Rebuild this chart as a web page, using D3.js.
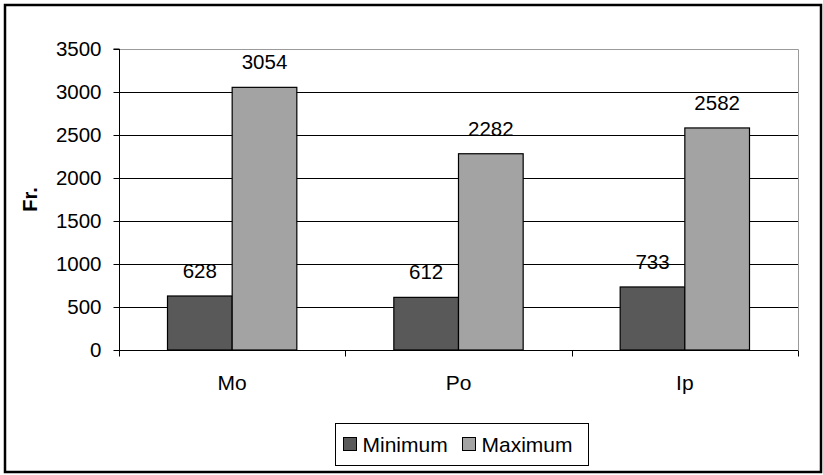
<!DOCTYPE html>
<html>
<head>
<meta charset="utf-8">
<script src="https://cdn.jsdelivr.net/npm/d3@7"></script>
<style>
  body { margin: 0; background: #fff; }
  svg text { font-family: "Liberation Sans", Arial, sans-serif; }
</style>
</head>
<body>
<svg id="chart" width="823" height="475"></svg>
<script>
// --- Data ---
const categories = ["Mo", "Po", "Ip"];
const seriesNames = ["Minimum", "Maximum"];
const minimumValues = [628, 612, 733];
const maximumValues = [3054, 2282, 2582];
const yTicks = [0, 500, 1000, 1500, 2000, 2500, 3000, 3500];

const COLORS = { Minimum: "#595959", Maximum: "#a3a3a3" };
const FONT_SIZE = 21;

const svg = d3.select("#chart");

// outer frame
svg.append("rect")
  .attr("x", 5).attr("y", 5).attr("width", 816).attr("height", 467)
  .attr("fill", "#fff").attr("stroke", "#000").attr("stroke-width", 2.5);

// plot area
const plot = { left: 119, right: 798, top: 49, bottom: 350 };

const x = d3.scaleBand().domain(categories).range([plot.left, plot.right]).padding(0);
const gap = 1.5; // excel gap width 150%
const barW = x.bandwidth() / (seriesNames.length + gap);
const y = d3.scaleLinear().domain([0, 3500]).range([plot.bottom, plot.top]);

const g = svg.append("g");

// gridlines
g.selectAll("line.grid").data(yTicks.filter(d => d > 0 && d < 3500)).join("line")
  .attr("x1", plot.left).attr("x2", plot.right)
  .attr("y1", d => Math.round(y(d)) + 0.5).attr("y2", d => Math.round(y(d)) + 0.5)
  .attr("stroke", "#000").attr("stroke-width", 1);

// plot border (top/right gray)
g.append("path")
  .attr("d", `M${plot.left},${plot.top + 0.5}H${plot.right + 0.5}V${plot.bottom}`)
  .attr("fill", "none").attr("stroke", "#9a9a9a").attr("stroke-width", 1);

// bars
const rows = categories.map((c, i) => ({ cat: c, values: [minimumValues[i], maximumValues[i]] }));
const groups = g.selectAll("g.cat").data(rows).join("g");
groups.each(function(row) {
  const start = x(row.cat) + barW * gap / 2;
  const sel = d3.select(this);
  row.values.forEach((v, j) => {
    const bx = start + j * barW;
    sel.append("rect")
      .attr("x", bx).attr("y", y(v))
      .attr("width", barW).attr("height", y(0) - y(v))
      .attr("fill", COLORS[seriesNames[j]])
      .attr("stroke", "#000").attr("stroke-width", 1.2);
    sel.append("text")
      .attr("x", bx + barW / 2).attr("y", y(v) - 18)
      .attr("text-anchor", "middle").attr("font-size", 20.5)
      .text(v);
  });
});

// y axis
const yAxis = d3.axisLeft(y).tickValues(yTicks).tickFormat(d3.format("d")).tickSize(6).tickPadding(12);
const yg = g.append("g").attr("transform", `translate(${plot.left + 0.5},0)`).call(yAxis);
yg.select(".domain").attr("d", `M-6,${plot.top}H0V${plot.bottom}`).attr("stroke", "#000");
yg.selectAll(".tick line").attr("stroke", "#000");
yg.selectAll(".tick text").attr("font-size", 20.5).attr("fill", "#000");

// x axis
const xg = g.append("g").attr("transform", `translate(0,${plot.bottom + 0.5})`);
xg.append("line").attr("x1", plot.left).attr("x2", plot.right)
  .attr("stroke", "#000");
const bounds = categories.map(c => x(c)).concat([plot.right]);
xg.selectAll("line.tk").data(bounds).join("line")
  .attr("x1", d => Math.round(d) + 0.5).attr("x2", d => Math.round(d) + 0.5)
  .attr("y1", 0).attr("y2", 6).attr("stroke", "#000");
xg.selectAll("text").data(categories).join("text")
  .attr("x", d => x(d) + x.bandwidth() / 2).attr("y", 39)
  .attr("text-anchor", "middle").attr("font-size", FONT_SIZE)
  .text(d => d);

// y title
svg.append("text")
  .attr("transform", `translate(37,${(plot.top + plot.bottom) / 2}) rotate(-90)`)
  .attr("text-anchor", "middle").attr("font-size", 20).attr("font-weight", "bold")
  .text("Fr.");

// legend
const lg = svg.append("g").attr("transform", "translate(335.5,423.5)");
lg.append("rect").attr("width", 253).attr("height", 42)
  .attr("fill", "#fff").attr("stroke", "#000").attr("stroke-width", 1);
const itemX = [8, 127];
seriesNames.forEach((s, i) => {
  lg.append("rect").attr("x", itemX[i]).attr("y", 14).attr("width", 13).attr("height", 13)
    .attr("fill", COLORS[s]).attr("stroke", "#000").attr("stroke-width", 1);
  lg.append("text").attr("x", itemX[i] + 19).attr("y", 28.5)
    .attr("font-size", FONT_SIZE).text(s);
});
</script>
</body>
</html>
